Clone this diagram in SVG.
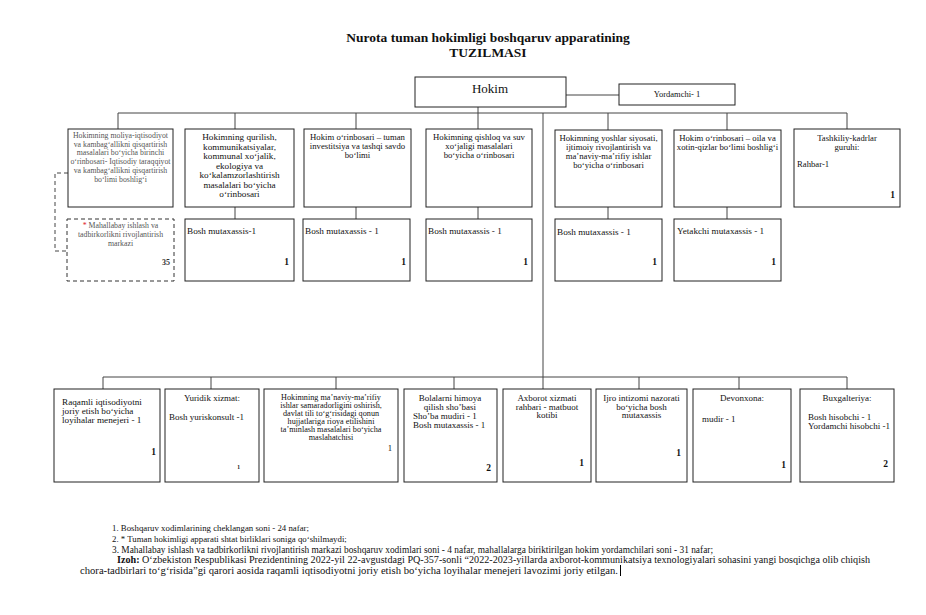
<svg xmlns="http://www.w3.org/2000/svg" width="926" height="615" viewBox="0 0 926 615">
<style>
.bg{fill:#fff}
.box{fill:#fff;stroke:#222;stroke-width:1}
.dbox{fill:#fff;stroke:#333;stroke-width:1;stroke-dasharray:4 3}
.ln{stroke:#444;stroke-width:1;fill:none}
.dl{stroke:#444;stroke-width:1;fill:none;stroke-dasharray:4 3}
text{font-family:"Liberation Serif","Times New Roman",serif;fill:#111}
.ttl{font-size:13.5px;font-weight:bold;text-anchor:middle}
.c{text-anchor:middle}
.e{text-anchor:end}
.f7{font-size:7.8px;fill:#555}
.f8{font-size:8.7px}
.fb{font-size:9px}
.f75{font-size:8.2px}
.f9{font-size:9.2px}
.n{font-size:9.5px;font-weight:bold;text-anchor:end}
.fs{font-size:8.8px}
.fn{font-size:9.4px}
.fl{font-size:10.5px}
</style>
<rect class="bg" x="0" y="0" width="926" height="615"/>

<g id="title">
<text class="ttl" x="488" y="42">Nurota tuman hokimligi boshqaruv apparatining</text>
<text class="ttl" x="488" y="57">TUZILMASI</text>
</g>

<g id="connectors">
<line class="ln" x1="566" y1="95" x2="619" y2="95"/>
<line class="ln" x1="478" y1="107" x2="478" y2="113"/>
<line class="ln" x1="118" y1="113" x2="847" y2="113"/>
<line class="ln" x1="118" y1="113" x2="118" y2="129"/>
<line class="ln" x1="235" y1="113" x2="235" y2="129"/>
<line class="ln" x1="356" y1="113" x2="356" y2="129"/>
<line class="ln" x1="478" y1="113" x2="478" y2="129"/>
<line class="ln" x1="608" y1="113" x2="608" y2="130"/>
<line class="ln" x1="727" y1="113" x2="727" y2="130"/>
<line class="ln" x1="847" y1="113" x2="847" y2="129"/>
<line class="ln" x1="235" y1="207" x2="235" y2="219"/>
<line class="ln" x1="356" y1="207" x2="356" y2="219"/>
<line class="ln" x1="478" y1="207" x2="478" y2="219"/>
<line class="ln" x1="608" y1="207" x2="608" y2="219"/>
<line class="ln" x1="727" y1="207" x2="727" y2="219"/>
<path class="dl" d="M68 173 H55 V251 H67"/>
<line class="ln" x1="543" y1="113" x2="543" y2="389"/>
<line class="ln" x1="103" y1="377" x2="847" y2="377"/>
<line class="ln" x1="103" y1="377" x2="103" y2="389"/>
<line class="ln" x1="211" y1="377" x2="211" y2="389"/>
<line class="ln" x1="336" y1="377" x2="336" y2="389"/>
<line class="ln" x1="454" y1="377" x2="454" y2="389"/>
<line class="ln" x1="639" y1="377" x2="639" y2="389"/>
<line class="ln" x1="739" y1="377" x2="739" y2="389"/>
<line class="ln" x1="847" y1="377" x2="847" y2="389"/>
</g>

<g id="hokim">
<rect class="box" x="415" y="77" width="151" height="30"/>
<text class="c" x="490" y="93" style="font-size:13px">Hokim</text>
</g>
<g id="yordamchi">
<rect class="box" x="619" y="84" width="116" height="21"/>
<text class="c" x="677" y="97" style="font-size:8.5px">Yordamchi- 1</text>
</g>

<g id="moliya">
<rect class="box" x="68" y="129" width="105" height="78"/>
<text class="c f7" x="120.5" y="138">Hokimning moliya-iqtisodiyot</text>
<text class="c f7" x="120.5" y="146.7">va kambagʻallikni qisqartirish</text>
<text class="c f7" x="120.5" y="155.4">masalalari boʻyicha birinchi</text>
<text class="c f7" x="120.5" y="164.1">oʻrinbosari- Iqtisodiy taraqqiyot</text>
<text class="c f7" x="120.5" y="172.8">va kambagʻallikni qisqartirish</text>
<text class="c f7" x="120.5" y="181.5">boʻlimi boshligʻi</text>
</g>

<g id="qurilish">
<rect class="box" x="185" y="129" width="109" height="78"/>
<text class="c f9" x="239.5" y="140">Hokimning qurilish,</text>
<text class="c f9" x="239.5" y="149.5">kommunikatsiyalar,</text>
<text class="c f9" x="239.5" y="159">kommunal xoʻjalik,</text>
<text class="c f9" x="239.5" y="168.5">ekologiya va</text>
<text class="c f9" x="239.5" y="178">koʻkalamzorlashtirish</text>
<text class="c f9" x="239.5" y="187.5">masalalari boʻyicha</text>
<text class="c f9" x="239.5" y="197">oʻrinbosari</text>
</g>

<g id="investitsiya">
<rect class="box" x="304" y="129" width="107" height="78"/>
<text class="c f8" x="357.5" y="140">Hokim oʻrinbosari – tuman</text>
<text class="c f8" x="357.5" y="149">investitsiya va tashqi savdo</text>
<text class="c f8" x="357.5" y="158">boʻlimi</text>
</g>

<g id="qishloq">
<rect class="box" x="426" y="129" width="106" height="78"/>
<text class="c f8" x="479" y="140">Hokimning qishloq va suv</text>
<text class="c f8" x="479" y="149">xoʻjaligi masalalari</text>
<text class="c f8" x="479" y="158">boʻyicha oʻrinbosari</text>
</g>

<g id="yoshlar">
<rect class="box" x="555" y="130" width="107" height="77"/>
<text class="c f8" x="608.5" y="141">Hokimning yoshlar siyosati,</text>
<text class="c f8" x="608.5" y="150">ijtimoiy rivojlantirish va</text>
<text class="c f8" x="608.5" y="159">maʼnaviy-maʼrifiy ishlar</text>
<text class="c f8" x="608.5" y="168">boʻyicha oʻrinbosari</text>
</g>

<g id="oila">
<rect class="box" x="674" y="130" width="107" height="77"/>
<text class="c f8" x="727.5" y="141">Hokim oʻrinbosari – oila va</text>
<text class="c f8" x="727.5" y="150">xotin-qizlar boʻlimi boshligʻi</text>
</g>

<g id="tashkiliy">
<rect class="box" x="794" y="129" width="106" height="78"/>
<text class="c f8" x="847" y="141">Tashkiliy-kadrlar</text>
<text class="c f8" x="847" y="150">guruhi:</text>
<text class="f8" x="797" y="167">Rahbar-1</text>
<text class="n" x="895" y="198">1</text>
</g>

<g id="sub-qurilish">
<rect class="box" x="185" y="219" width="109" height="62"/>
<text class="f9" x="187" y="234">Bosh mutaxassis-1</text>
<text class="n" x="289" y="265">1</text>
</g>
<g id="sub-investitsiya">
<rect class="box" x="303" y="219" width="107" height="62"/>
<text class="f9" x="305" y="234">Bosh mutaxassis - 1</text>
<text class="n" x="406" y="265">1</text>
</g>
<g id="sub-qishloq">
<rect class="box" x="426" y="219" width="106" height="62"/>
<text class="f9" x="428" y="234">Bosh mutaxassis - 1</text>
<text class="n" x="528" y="265">1</text>
</g>
<g id="sub-yoshlar">
<rect class="box" x="555" y="219" width="107" height="62"/>
<text class="f9" x="557" y="235">Bosh mutaxassis - 1</text>
<text class="n" x="657" y="265">1</text>
</g>
<g id="sub-oila">
<rect class="box" x="674" y="219" width="107" height="62"/>
<text class="f9" x="677" y="234">Yetakchi mutaxassis - 1</text>
<text class="n" x="776" y="265">1</text>
</g>

<g id="mahallabay">
<rect class="dbox" x="67" y="219" width="107" height="62"/>
<text class="c f7" x="120.5" y="228"><tspan fill="#e0202a">*</tspan> Mahallabay ishlash va</text>
<text class="c f7" x="120.5" y="237">tadbirkorlikni rivojlantirish</text>
<text class="c f7" x="120.5" y="246">markazi</text>
<text class="e" x="170" y="265" style="font-size:8px;font-weight:bold;fill:#333">35</text>
</g>

<g id="raqamli">
<rect class="box" x="54" y="389" width="106" height="93"/>
<text class="f9" x="62" y="405">Raqamli iqtisodiyotni</text>
<text class="f9" x="62" y="414">joriy etish boʻyicha</text>
<text class="f9" x="62" y="423">loyihalar menejeri - 1</text>
<text class="n" x="156" y="455">1</text>
</g>

<g id="yuridik">
<rect class="box" x="165" y="389" width="94" height="93"/>
<text class="c fb" x="212" y="401">Yuridik xizmat:</text>
<text class="fb" x="169" y="420">Bosh yuriskonsult -1</text>
<text class="e" x="240" y="469" style="font-size:5.5px;font-weight:bold">1</text>
</g>

<g id="manaviy">
<rect class="box" x="264" y="389" width="134" height="93"/>
<text class="c f75" x="331" y="400">Hokimning maʼnaviy-maʼrifiy</text>
<text class="c f75" x="331" y="408">ishlar samaradorligini oshirish,</text>
<text class="c f75" x="331" y="416">davlat tili toʻgʻrisidagi qonun</text>
<text class="c f75" x="331" y="424">hujjatlariga rioya etilishini</text>
<text class="c f75" x="331" y="432">taʼminlash masalalari boʻyicha</text>
<text class="c f75" x="331" y="440">maslahatchisi</text>
<text class="e f8" x="392" y="451">1</text>
</g>

<g id="bolalar">
<rect class="box" x="404" y="389" width="93" height="93"/>
<text class="c fb" x="450" y="401">Bolalarni himoya</text>
<text class="c fb" x="450" y="409.5">qilish shoʼbasi</text>
<text class="fb" x="413" y="419">Shoʼba mudiri - 1</text>
<text class="fb" x="413" y="427.5">Bosh mutaxassis - 1</text>
<text class="n" x="491" y="471">2</text>
</g>

<g id="axborot">
<rect class="box" x="503" y="389" width="88" height="93"/>
<text class="c fb" x="547" y="401">Axborot xizmati</text>
<text class="c fb" x="547" y="409.5">rahbari - matbuot</text>
<text class="c fb" x="547" y="418">kotibi</text>
<text class="n" x="584" y="466">1</text>
</g>

<g id="ijro">
<rect class="box" x="596" y="389" width="91" height="93"/>
<text class="c fb" x="641.5" y="401">Ijro intizomi nazorati</text>
<text class="c fb" x="641.5" y="409.5">boʻyicha bosh</text>
<text class="c fb" x="641.5" y="418">mutaxassis</text>
<text class="n" x="681" y="456">1</text>
</g>

<g id="devonxona">
<rect class="box" x="693" y="389" width="98" height="93"/>
<text class="c fb" x="742" y="401">Devonxona:</text>
<text class="fb" x="702" y="422">mudir - 1</text>
<text class="n" x="786" y="468">1</text>
</g>

<g id="buxgalteriya">
<rect class="box" x="800" y="389" width="94" height="93"/>
<text class="c fb" x="847" y="401">Buxgalteriya:</text>
<text class="fb" x="808" y="420">Bosh hisobchi - 1</text>
<text class="fb" x="808" y="428.5">Yordamchi hisobchi -1</text>
<text class="n" x="888" y="467">2</text>
</g>

<g id="notes">
<text class="fs" x="112" y="531">1. Boshqaruv xodimlarining cheklangan soni - 24 nafar;</text>
<text class="fs" x="112" y="542">2. * Tuman hokimligi apparati shtat birliklari soniga qoʻshilmaydi;</text>
<text class="fn" x="112" y="552.5" textLength="601" lengthAdjust="spacingAndGlyphs">3. Mahallabay ishlash va tadbirkorlikni rivojlantirish markazi boshqaruv xodimlari soni - 4 nafar, mahallalarga biriktirilgan hokim yordamchilari soni - 31 nafar;</text>
<text class="fl" x="117" y="563" textLength="753" lengthAdjust="spacingAndGlyphs"><tspan font-weight="bold">Izoh:</tspan> Oʻzbekiston Respublikasi Prezidentining 2022-yil 22-avgustdagi PQ-357-sonli “2022-2023-yillarda axborot-kommunikatsiya texnologiyalari sohasini yangi bosqichga olib chiqish</text>
<text class="fl" x="80" y="573.5" textLength="538" lengthAdjust="spacingAndGlyphs">chora-tadbirlari toʻgʻrisida”gi qarori aosida raqamli iqtisodiyotni joriy etish boʻyicha loyihalar menejeri lavozimi joriy etilgan.</text>
<line x1="620.5" y1="565" x2="620.5" y2="576" stroke="#000" stroke-width="1"/>
</g>
</svg>
